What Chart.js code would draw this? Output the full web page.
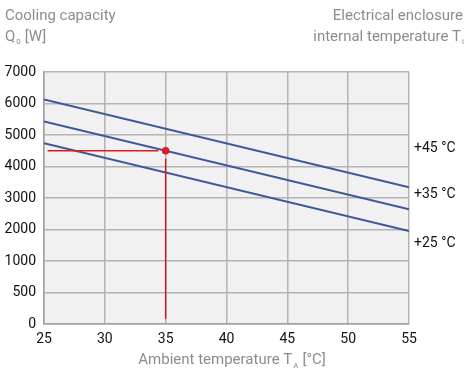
<!DOCTYPE html>
<html>
<head>
<meta charset="utf-8">
<script src="https://cdn.jsdelivr.net/npm/chart.js@4.4.0/dist/chart.umd.min.js"></script>
<style>
    html, body { margin: 0; padding: 0; background: #ffffff; }
    #wrap { width: 474px; height: 376px; position: relative; }
</style>
</head>
<body>
<div id="wrap"><canvas id="cooling"></canvas></div>
<script>
// ambient temperature (x) and cooling capacity in W (y)
const ambientTemps = [25, 55];
const capacity45 = [6130, 3340];
const capacity35 = [5430, 2640];
const capacity25 = [4740, 1950];

// example reading: 35 °C ambient -> 4500 W
const markerX = 35;
const markerY = 4500;
const guideStartX = 25.3;
const guideEndX = 34.4;
const guideBelowY = 4250;
const guideBottomY = 80;

// y axis is not linear: tick labels are evenly spaced
const yTickLabels = ['0', '500', '1000', '2000', '3000', '4000', '5000', '6000', '7000'];
const xTickLabels = [25, 30, 35, 40, 45, 50, 55];

const curveNames = ['+45 °C', '+35 °C', '+25 °C'];
const curveLabelY = [4560, 3100, 1570];

// map watts onto the evenly spaced tick positions
function toPos(w) {
    return w < 1000 ? w / 500 : w / 1000 + 1;
}

function curve(values) {
    return ambientTemps.map((t, i) => ({ x: t, y: toPos(values[i]) }));
}

const blue = '#3b5998';
const red = '#de1a26';
const font = "'Roboto', 'Liberation Sans', sans-serif";

const lineStyle = {
    borderColor: blue,
    borderWidth: 2,
    pointRadius: 0,
    fill: false,
    order: 2
};

const textPlugin = {
    id: 'textPlugin',
    beforeDraw(chart) {
        const ctx = chart.ctx;
        const area = chart.chartArea;
        ctx.save();
        ctx.fillStyle = '#f1f1f1';
        ctx.fillRect(area.left, area.top, area.right - area.left, area.bottom - area.top);
        ctx.restore();
    },
    afterDraw(chart) {
        const ctx = chart.ctx;
        const xs = chart.scales.x;
        const ys = chart.scales.y;
        const big = '15px ' + font;
        const small = '8px ' + font;
        ctx.save();
        ctx.textBaseline = 'middle';

        // headings
        ctx.fillStyle = '#8c8c8c';
        ctx.font = big;
        ctx.textAlign = 'left';
        ctx.fillText('Cooling capacity', 5, 16);
        ctx.fillText('Q', 5, 37);
        let w = ctx.measureText('Q').width;
        ctx.font = small;
        ctx.fillText('0', 5 + w + 1, 42);
        let w2 = ctx.measureText('0').width;
        ctx.font = big;
        ctx.fillText('[W]', 5 + w + w2 + 5, 37);

        ctx.textAlign = 'right';
        ctx.fillText('Electrical enclosure', 463, 16);
        ctx.font = small;
        const subI = ctx.measureText('i').width;
        ctx.fillText('i', 464, 42);
        ctx.font = big;
        ctx.fillText('internal temperature T', 464 - subI - 1, 37);

        // x axis title
        ctx.textAlign = 'left';
        const t1 = 'Ambient temperature T';
        const t2 = '[°C]';
        const tw1 = ctx.measureText(t1).width;
        ctx.font = small;
        const tsw = ctx.measureText('A').width;
        ctx.font = big;
        const tw2 = ctx.measureText(t2).width;
        const total = tw1 + tsw + 5 + tw2;
        let x0 = 232 - total / 2;
        ctx.fillText(t1, x0, 360);
        ctx.font = small;
        ctx.fillText('A', x0 + tw1 + 1, 366);
        ctx.font = big;
        ctx.fillText(t2, x0 + tw1 + tsw + 5, 360);

        // curve names on the right
        ctx.fillStyle = '#111111';
        ctx.font = '14px ' + font;
        curveNames.forEach((name, i) => {
            ctx.fillText(name, xs.right + 5, ys.getPixelForValue(toPos(curveLabelY[i])));
        });
        ctx.restore();
    }
};

new Chart(document.getElementById('cooling'), {
    type: 'line',
    data: {
        datasets: [
            { ...lineStyle, data: curve(capacity45) },
            { ...lineStyle, data: curve(capacity35) },
            { ...lineStyle, data: curve(capacity25) },
            {
                data: [{ x: guideStartX, y: toPos(markerY) }, { x: guideEndX, y: toPos(markerY) }],
                borderColor: red, borderWidth: 1.5, pointRadius: 0, order: 1
            },
            {
                data: [{ x: markerX, y: toPos(guideBelowY) }, { x: markerX, y: toPos(guideBottomY) }],
                borderColor: '#c41e2e', borderWidth: 1.5, pointRadius: 0, order: 1
            },
            {
                data: [{ x: markerX, y: toPos(markerY) }],
                borderWidth: 0, backgroundColor: red, pointRadius: 3.8, showLine: false, order: 0
            }
        ]
    },
    options: {
        responsive: true,
        maintainAspectRatio: false,
        animation: false,
        layout: { padding: { top: 72, right: 65, left: 0, bottom: 0 } },
        plugins: {
            legend: { display: false },
            tooltip: { enabled: false }
        },
        scales: {
            x: {
                type: 'linear',
                min: 25,
                max: 55,
                afterFit(scale) { scale.height = 52; },
                afterBuildTicks(scale) { scale.ticks = xTickLabels.map(v => ({ value: v })); },
                grid: { color: '#b4b4b4', lineWidth: 1.5, drawTicks: false },
                border: { color: '#a0a0a0', width: 1.5 },
                ticks: {
                    color: '#111111',
                    padding: 7,
                    maxRotation: 0,
                    font: { family: font, size: 14 }
                }
            },
            y: {
                type: 'linear',
                min: 0,
                max: 8,
                afterFit(scale) { scale.width = 44; },
                grid: { color: '#b4b4b4', lineWidth: 1.5, drawTicks: false },
                border: { color: '#a0a0a0', width: 1.5 },
                ticks: {
                    stepSize: 1,
                    color: '#111111',
                    padding: 8,
                    font: { family: font, size: 14 },
                    callback: (v) => yTickLabels[v]
                }
            }
        }
    },
    plugins: [textPlugin]
});
</script>
</body>
</html>
